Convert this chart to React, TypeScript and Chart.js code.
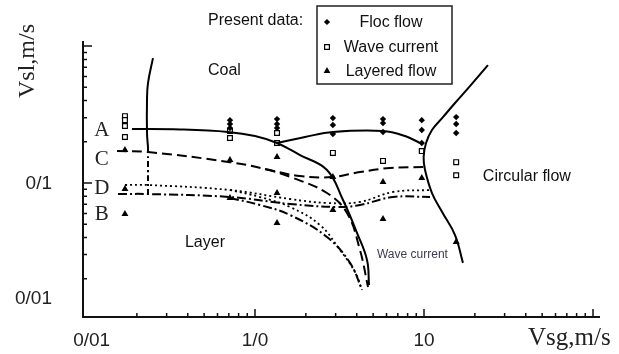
import React, { useEffect, useRef } from 'react';
import { Chart, registerables } from 'chart.js';
Chart.register(...registerables);

type P = [number, number];

// ---- measured points (Vsg m/s, Vsl m/s) ----
const flocFlow: P[] = [
  [0.711, 0.288], [0.711, 0.27], [0.711, 0.252],
  [1.35, 0.293], [1.35, 0.27], [1.35, 0.252],
  [2.89, 0.298], [2.89, 0.265], [2.89, 0.228],
  [5.72, 0.293], [5.72, 0.274], [5.72, 0.236],
  [9.7, 0.288], [9.7, 0.244], [9.7, 0.196],
  [15.5, 0.303], [15.5, 0.27], [15.5, 0.232],
];
const waveCurrent: P[] = [
  [0.17, 0.308], [0.17, 0.288], [0.17, 0.261], [0.17, 0.217],
  [0.711, 0.24], [0.711, 0.213],
  [1.35, 0.232], [1.35, 0.196],
  [2.89, 0.166],
  [5.72, 0.145],
  [9.7, 0.171],
  [15.5, 0.142], [15.5, 0.114],
];
const layeredFlow: P[] = [
  [0.17, 0.174], [0.17, 0.0904], [0.17, 0.0594],
  [0.711, 0.147], [0.711, 0.0777],
  [1.35, 0.155], [1.35, 0.0845], [1.35, 0.0511],
  [2.89, 0.1106], [2.89, 0.0635],
  [5.72, 0.1017], [5.72, 0.0546],
  [9.7, 0.1088],
  [15.5, 0.0371],
];

// ---- transition boundaries ----
const curveA: P[] = [[0.187, 0.248], [0.36, 0.246], [0.692, 0.236], [1.0, 0.2205], [1.35, 0.196], [1.846, 0.16], [2.667, 0.1244], [3.317, 0.0751], [4.013, 0.0432], [4.6, 0.0274], [4.728, 0.018]];
const curveA2: P[] = [[1.35, 0.196], [1.977, 0.217], [2.894, 0.236], [5.72, 0.24], [7.72, 0.2205], [9.47, 0.196]];
const rightBoundary: P[] = [[23.9, 0.727], [18.7, 0.511], [15.26, 0.384], [12.95, 0.303], [11.15, 0.244], [10.28, 0.196], [9.95, 0.155], [10.14, 0.1244], [11.15, 0.0845], [12.8, 0.0614], [15.26, 0.0417], [17.0, 0.0261]];
const leftBoundarySolid: P[] = [[0.249, 0.817], [0.2327, 0.537], [0.2296, 0.4035], [0.2296, 0.232], [0.2327, 0.183]];
const leftBoundaryDashDot: P[] = [[0.2327, 0.183], [0.2327, 0.1244], [0.2327, 0.0831]];
const curveC: P[] = [[0.1525, 0.171], [0.2327, 0.1684], [0.711, 0.142], [1.146, 0.1265], [1.68, 0.1088], [2.667, 0.0845], [3.503, 0.0604], [4.18, 0.0324], [4.664, 0.0174]];
const curveC2: P[] = [[1.146, 0.1265], [1.846, 0.1125], [2.855, 0.1106], [4.18, 0.1203], [6.29, 0.1287], [10.14, 0.1309]];
const curveD: P[] = [[0.17, 0.0967], [0.2327, 0.0967], [0.711, 0.0889], [1.61, 0.0764], [2.667, 0.0715], [4.18, 0.0727], [6.556, 0.086], [10.85, 0.0889]];
const curveD2: P[] = [[0.711, 0.0889], [1.07, 0.079], [1.61, 0.0668], [2.425, 0.0493], [3.184, 0.0324], [3.906, 0.0224], [4.3, 0.01656]];
const curveB: P[] = [[0.1546, 0.0831], [0.2327, 0.0831], [0.711, 0.079], [1.61, 0.0703], [3.056, 0.0668], [4.18, 0.0691], [6.556, 0.079], [10.85, 0.079]];
const curveB2: P[] = [[0.711, 0.0777], [1.07, 0.0691], [1.61, 0.0584], [2.667, 0.0403], [3.65, 0.0261], [4.3, 0.01656]];

// ---- axes ----
const xTickLabels = ['0/01', '1/0', '10'];
const xTickLabelValues = [0.108, 1, 10];
const yTickLabels = ['0/1', '0/01'];
const yTickLabelValues = [0.1, 0.0145];
const xMajorTicks = [1, 10, 100];
const yMajorTicks = [0.1, 1];
const legendLabels = ['Floc flow', 'Wave current', 'Layered flow'];
const regionLabels = ['Coal', 'Layer', 'Circular flow', 'Wave current'];
const curveLetters = ['A', 'C', 'D', 'B'];

const SANS = '"Liberation Sans", Arial, sans-serif';
const SERIF = '"Liberation Serif", "Times New Roman", serif';

const toXY = (arr: P[]) => arr.map(([x, y]) => ({ x, y }));

function minorTicks(decades: number[]) {
  const out: number[] = [];
  decades.forEach((d) => {
    for (let k = 2; k <= 9; k++) out.push(d * k);
  });
  return out;
}

function drawMarker(ctx: CanvasRenderingContext2D, kind: string, x: number, y: number) {
  ctx.save();
  ctx.beginPath();
  if (kind === 'diamond') {
    const r = 3.1;
    ctx.moveTo(x - r, y); ctx.lineTo(x, y - r); ctx.lineTo(x + r, y); ctx.lineTo(x, y + r); ctx.closePath();
    ctx.fillStyle = '#000'; ctx.fill();
  } else if (kind === 'square') {
    ctx.rect(x - 2.4, y - 2.4, 4.8, 4.8);
    ctx.fillStyle = '#fff'; ctx.fill();
    ctx.lineWidth = 1.2; ctx.strokeStyle = '#000'; ctx.stroke();
  } else {
    const r = 3.9;
    ctx.moveTo(x, y - r); ctx.lineTo(x + r * 0.866, y + r * 0.5); ctx.lineTo(x - r * 0.866, y + r * 0.5); ctx.closePath();
    ctx.fillStyle = '#000'; ctx.fill();
  }
  ctx.restore();
}

const decorPlugin = {
  id: 'decor',
  afterDraw(chart: any) {
    const ctx: CanvasRenderingContext2D = chart.ctx;
    const xs = chart.scales.x;
    const ys = chart.scales.y;
    const { left, right, top, bottom } = chart.chartArea;
    ctx.save();
    ctx.strokeStyle = '#111';
    ctx.fillStyle = '#111';
    // axis lines
    ctx.lineWidth = 2;
    ctx.beginPath();
    ctx.moveTo(left, top);
    ctx.lineTo(left, bottom);
    ctx.lineTo(right, bottom);
    ctx.stroke();
    // ticks
    ctx.lineWidth = 1.5;
    ctx.beginPath();
    minorTicks([0.1, 1, 10]).forEach((v) => {
      const px = xs.getPixelForValue(v);
      ctx.moveTo(px, bottom); ctx.lineTo(px, bottom - 4);
    });
    xMajorTicks.forEach((v) => {
      const px = xs.getPixelForValue(v);
      ctx.moveTo(px, bottom); ctx.lineTo(px, bottom - 8);
    });
    minorTicks([0.01, 0.1]).forEach((v) => {
      const py = ys.getPixelForValue(v);
      if (py < bottom - 1) { ctx.moveTo(left, py); ctx.lineTo(left + 4, py); }
    });
    yMajorTicks.forEach((v) => {
      const py = ys.getPixelForValue(v);
      ctx.moveTo(left, py); ctx.lineTo(left + 9, py);
    });
    ctx.stroke();

    // tick labels
    ctx.fillStyle = '#222';
    ctx.font = `19px ${SANS}`;
    ctx.textBaseline = 'middle';
    ctx.textAlign = 'center';
    xTickLabels.forEach((t, i) => ctx.fillText(t, xs.getPixelForValue(xTickLabelValues[i]), bottom + 24));
    ctx.textAlign = 'right';
    yTickLabels.forEach((t, i) => ctx.fillText(t, left - 31, ys.getPixelForValue(yTickLabelValues[i]) + 1));

    // axis titles
    ctx.font = `24px ${SERIF}`;
    ctx.textAlign = 'center';
    ctx.save();
    ctx.translate(28, 61);
    ctx.rotate(-Math.PI / 2);
    ctx.fillText('Vsl,m/s', 0, 0);
    ctx.restore();
    ctx.font = `25px ${SERIF}`;
    ctx.textAlign = 'left';
    ctx.fillText('Vsg,m/s', 528, 338);

    // curve letters
    ctx.font = `21px ${SERIF}`;
    ctx.textAlign = 'center';
    const letterY = [0.248, 0.152, 0.092, 0.0594];
    curveLetters.forEach((t, i) => ctx.fillText(t, xs.getPixelForValue(0.124), ys.getPixelForValue(letterY[i]) + 1));

    // region labels
    ctx.fillStyle = '#111';
    ctx.textAlign = 'left';
    ctx.font = `16px ${SANS}`;
    ctx.fillText(regionLabels[0], xs.getPixelForValue(0.527), ys.getPixelForValue(0.668));
    ctx.fillText(regionLabels[1], xs.getPixelForValue(0.385), ys.getPixelForValue(0.0365));
    ctx.fillText(regionLabels[2], xs.getPixelForValue(22.3), ys.getPixelForValue(0.1106));
    ctx.font = `12px ${SANS}`;
    ctx.fillStyle = '#3b3b4f';
    ctx.fillText(regionLabels[3], xs.getPixelForValue(5.27), ys.getPixelForValue(0.0298));

    // legend
    ctx.fillStyle = '#111';
    ctx.font = `16px ${SANS}`;
    ctx.fillText('Present data:', 208, 21);
    ctx.lineWidth = 1.5;
    ctx.strokeStyle = '#222';
    ctx.strokeRect(317, 6, 135, 78);
    const kinds = ['diamond', 'square', 'triangle'];
    const rows = [22, 47, 71];
    ctx.textAlign = 'center';
    legendLabels.forEach((t, i) => {
      drawMarker(ctx, kinds[i], 327, rows[i]);
      ctx.fillText(t, 391, rows[i] + 1);
    });
    ctx.restore();
  },
};

const lineDs = (data: P[], dash: number[], width = 2) => ({
  data: toXY(data),
  showLine: true,
  pointRadius: 0,
  borderColor: '#000',
  backgroundColor: '#000',
  borderWidth: width,
  borderDash: dash,
  tension: 0.4,
  fill: false,
});

export default function App() {
  const ref = useRef<HTMLCanvasElement | null>(null);
  useEffect(() => {
    document.body.style.margin = '0';
    if (!ref.current) return;
    const chart = new Chart(ref.current, {
      type: 'scatter',
      data: {
        datasets: [
          lineDs(curveA, []),
          lineDs(curveA2, []),
          lineDs(rightBoundary, []),
          lineDs(leftBoundarySolid, []),
          lineDs(leftBoundaryDashDot, [6, 3, 2, 3]),
          lineDs(curveC, [10, 5]),
          lineDs(curveC2, [10, 5]),
          lineDs(curveD, [2, 3], 1.8),
          lineDs(curveD2, [2, 3], 1.8),
          lineDs(curveB, [9, 3, 2, 3]),
          lineDs(curveB2, [9, 3, 2, 3]),
          {
            data: toXY(flocFlow), pointStyle: 'rectRot', pointRadius: 3.2,
            backgroundColor: '#000', borderColor: '#000', borderWidth: 0,
          },
          {
            data: toXY(waveCurrent), pointStyle: 'rect', pointRadius: 3.4,
            backgroundColor: '#fff', borderColor: '#000', borderWidth: 1.2,
          },
          {
            data: toXY(layeredFlow), pointStyle: 'triangle', pointRadius: 4,
            backgroundColor: '#000', borderColor: '#000', borderWidth: 0,
          },
        ] as any,
      },
      options: {
        animation: false,
        responsive: false,
        events: [],
        layout: { padding: { left: 83, right: 19, top: 41, bottom: 37 } },
        plugins: { legend: { display: false }, tooltip: { enabled: false } },
        scales: {
          x: { type: 'logarithmic', min: 0.096, max: 110, display: false },
          y: { type: 'logarithmic', min: 0.0105, max: 1.09, display: false },
        },
      },
      plugins: [decorPlugin],
    });
    return () => chart.destroy();
  }, []);
  return (
    <div style={{ width: 619, height: 354, background: '#fff' }}>
      <canvas ref={ref} width={619} height={354} style={{ display: 'block' }} />
    </div>
  );
}
